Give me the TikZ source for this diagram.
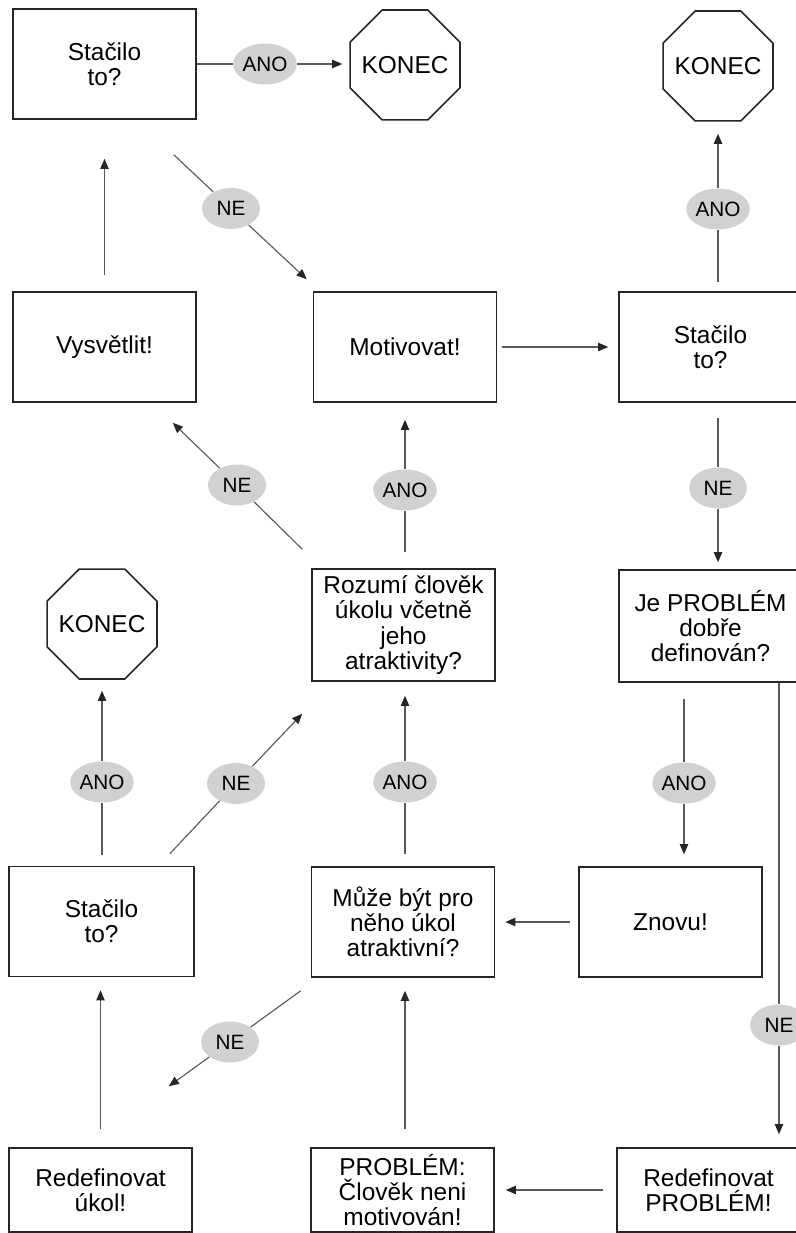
\documentclass[tikz,border=0pt]{standalone}
\usepackage{fontspec}
\setmainfont{Liberation Sans}
\usetikzlibrary{shapes.geometric,arrows.meta,calc}
\begin{document}
\begin{tikzpicture}[x=0.02cm,y=-0.02cm,
  box/.style={draw=black!85,line width=0.9pt,align=center,inner sep=0pt,
    minimum width=3.66cm,minimum height=2.2cm,font=\fontsize{13.9}{14.3}\selectfont},
  stopbox/.style={draw=black!85,line width=0.9pt,regular polygon,regular polygon sides=8,
    minimum size=2.38cm,inner sep=0pt,font=\fontsize{13.9}{14.3}\selectfont},
  lbl/.style={ellipse,fill=black!18,inner sep=0pt,minimum width=1.16cm,
    minimum height=0.82cm,font=\fontsize{11.8}{12}\selectfont},
  con/.style={draw=black!65,line width=0.65pt},
  arr/.style={con,-{Triangle[length=5.8pt,width=4.8pt,color=black!85]}}]
\useasboundingbox (0,0) rectangle (795,1233);

% boxes
\node[box] (A) at (104.5,64) {Stačilo\\to?};
\node[stopbox] (K1) at (405,65) {\makebox[0pt]{KONEC}};
\node[stopbox] (K2) at (718,66) {\makebox[0pt]{KONEC}};
\node[box] (Vys) at (104.5,347) {Vysvětlit!};
\node[box] (Mot) at (405,347) {Motivovat!};
\node[box] (S2) at (710.5,347) {Stačilo\\to?};
\node[box,minimum height=2.24cm] (Roz) at (403.5,625) {Rozumí člověk\\úkolu včetně\\jeho\\atraktivity?};
\node[box,minimum height=2.24cm] (Je) at (710.5,626) {Je PROBLÉM\\dobře\\definován?};
\node[stopbox] (K3) at (102,624) {\makebox[0pt]{KONEC}};
\node[box,minimum width=3.7cm] (S3) at (101.5,921.5) {Stačilo\\to?};
\node[box] (Muz) at (403,922) {Může být pro\\něho úkol\\atraktivní?};
\node[box] (Zn) at (670.5,922) {Znovu!};
\node[box,minimum height=1.68cm] (Ru) at (100.5,1190) {Redefinovat\\úkol!};
\node[box,minimum height=1.68cm] (Pr) at (402.5,1190) {PROBLÉM:\\Člověk neni\\motivován!};
\node[box,minimum height=1.68cm] (Rp) at (708.5,1190) {Redefinovat\\PROBLÉM!};

% labels
\node[lbl] (L1) at (265,64) {ANO};
\node[lbl] (L2) at (231,208.5) {NE};
\node[lbl] (L5) at (718,209) {ANO};
\node[lbl] (L6) at (405,490) {ANO};
\node[lbl] (L7) at (237,485) {NE};
\node[lbl] (L8) at (718,488) {NE};
\node[lbl] (L9) at (684,783) {ANO};
\node[lbl] (L10) at (779,1025) {NE};
\node[lbl] (L12) at (102,782) {ANO};
\node[lbl] (L13) at (236,783.5) {NE};
\node[lbl] (L14) at (405,782) {ANO};
\node[lbl] (L15) at (230,1042) {NE};

% connectors
\draw[con] (A.east) -- (L1);
\draw[arr] (L1) -- ($(K1.west |- A.east)+(-7,0)$);

\draw[con] ($(A.south east)+(-23,35)$) -- (L2);
\draw[arr] (L2) -- ($(Mot.north west)+(-6,-12)$);

\draw[arr] ($(Vys.north)+(0,-16)$) -- ($(A.south)+(0,39)$);

\draw[arr] ($(Mot.east)+(5,0)$) -- ($(S2.west)+(-10,0)$);

\draw[con] ($(L5 |- S2.north)+(0,-9)$) -- (L5);
\draw[arr] (L5) -- ($(K2.south)+(0,12)$);

\draw[con] ($(L6 |- Roz.north)+(0,-16)$) -- (L6);
\draw[arr] (L6) -- ($(L6 |- Mot.south)+(0,17)$);

\draw[con] ($(Roz.north west)+(-9,-19)$) -- (L7);
\draw[arr] (L7) -- ($(Vys.south east)+(-24,20)$);

\draw[con] ($(L8 |- S2.south)+(0,15)$) -- (L8);
\draw[arr] (L8) -- ($(L8 |- Je.north)+(0,-7)$);

\draw[con] ($(L9 |- Je.south)+(0,16)$) -- (L9);
\draw[arr] (L9) -- ($(L9 |- Zn.north)+(0,-12)$);

\draw[con] (L10 |- Je.south) -- (L10);
\draw[arr] (L10) -- ($(L10 |- Rp.north)+(0,-13)$);

\draw[arr] ($(Zn.west)+(-8,0)$) -- ($(Muz.east)+(10,0)$);

\draw[con] ($(L12 |- S3.north)+(0,-11)$) -- (L12);
\draw[arr] (L12) -- ($(K3.south)+(0,11)$);

\draw[con] ($(S3.north east)+(-25,-12)$) -- (L13);
\draw[arr] (L13) -- ($(Roz.south west)+(-9,32)$);

\draw[con] ($(L14 |- Muz.north)+(0,-12)$) -- (L14);
\draw[arr] (L14) -- ($(L14 |- Roz.south)+(0,14)$);

\draw[con] ($(Muz.south west)+(-10,13)$) -- (L15);
\draw[arr] (L15) -- ($(Ru.north east)+(-24,-61)$);

\draw[arr] ($(Ru.north)+(0,-18)$) -- ($(Ru.north |- S3.south)+(0,13)$);
\draw[arr] ($(L14 |- Pr.north)+(0,-18)$) -- ($(L14 |- Muz.south)+(0,13)$);
\draw[arr] ($(Rp.west)+(-13,0)$) -- ($(Pr.east)+(11,0)$);
\end{tikzpicture}
\end{document}
